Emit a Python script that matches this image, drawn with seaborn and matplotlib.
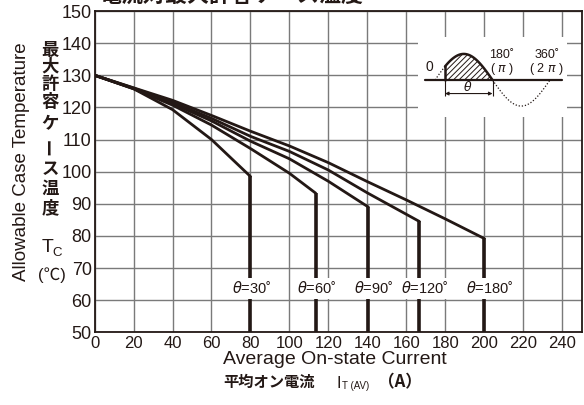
import numpy as np
import pandas as pd
import matplotlib
matplotlib.use('Agg')
import matplotlib.pyplot as plt
import seaborn as sns
from matplotlib.patches import Rectangle

# conduction angles (deg) and the derating curves
angles = [30, 60, 90, 120, 180]

cur_30 = [0, 20, 40, 60, 80]
tc_30 = [130, 125.8, 119.3, 110, 98.5]

cur_60 = [0, 20, 40, 60, 80, 100, 113.5]
tc_60 = [130, 125.8, 120.7, 114.5, 107.2, 99.5, 93.3]

cur_90 = [0, 20, 40, 60, 80, 100, 120, 140.5]
tc_90 = [130, 125.9, 121.2, 115.8, 109.5, 104, 97, 89]

cur_120 = [0, 20, 40, 60, 80, 100, 120, 140, 166.7]
tc_120 = [130, 126, 121.6, 116.6, 111, 106.3, 100.5, 93.4, 84.5]

cur_180 = [0, 20, 40, 60, 80, 100, 120, 140, 160, 180, 200]
tc_180 = [130, 126.1, 122.2, 117.5, 112.6, 108, 102.8, 96.9, 91.2, 85.3, 79.2]

currents = [cur_30, cur_60, cur_90, cur_120, cur_180]
temps = [tc_30, tc_60, tc_90, tc_120, tc_180]

x_ticks = [0, 20, 40, 60, 80, 100, 120, 140, 160, 180, 200, 220, 240]
y_ticks = [50, 60, 70, 80, 90, 100, 110, 120, 130, 140, 150]

# long table for seaborn
rows = []
for ang, cur, tc in zip(angles, currents, temps):
    for c, t in zip(cur, tc):
        rows.append({'angle': ang, 'current': c, 'tc': t})
df = pd.DataFrame(rows)

sns.set_theme(style='white')
plt.rcParams['font.family'] = ['Liberation Sans', 'Noto Sans CJK JP', 'DejaVu Sans']
plt.rcParams['hatch.linewidth'] = 0.7

ink = '#231815'
W, H = 584, 405

fig = plt.figure(figsize=(5.84, 4.05), dpi=100)
ax = fig.add_axes([94.6 / W, 72.7 / H, 487 / W, 321.3 / H])

sns.lineplot(data=df, x='current', y='tc', hue='angle', palette=[ink] * len(angles),
             estimator=None, sort=False, lw=2.0, legend=False, ax=ax)

# vertical drop at the max current of each curve
ax.vlines([c[-1] for c in currents], 50, [t[-1] for t in temps], color=ink, lw=2.6)

ax.set_xlim(0, 250)
ax.set_ylim(50, 150)
ax.set_xticks(x_ticks)
ax.set_yticks(y_ticks)
ax.grid(True, color='#7a7a7a', lw=1.0)
ax.set_xlabel('')
ax.set_ylabel('')
ax.tick_params(length=0)
ax.tick_params(axis='y', labelsize=13, pad=2, colors=ink)
ax.tick_params(axis='x', labelsize=12, pad=3, colors=ink)
for lab in ax.get_xticklabels():
    lab.set_family(['Liberation Sans Narrow', 'Liberation Sans'])
for sp in ax.spines.values():
    sp.set_color(ink)
    sp.set_linewidth(1.3)
    sp.set_visible(True)

# angle labels over the drop lines
label_shift = [0.5, 0.5, 3, 3, 3]
for ang, cur, dx in zip(angles, currents, label_shift):
    ax.text(cur[-1] + dx, 63.7, r'$\theta$=%d˚' % ang, ha='center', va='center',
            fontsize=10.5, color=ink, zorder=5,
            bbox=dict(facecolor='white', edgecolor='none', pad=2))

# waveform sketch top right
ins = fig.add_axes([418 / W, (H - 117) / H, 149 / W, 80 / H])
ins.axis('off')
ins.set_xlim(-0.296, 2.296)
ins.set_ylim(-1.42, 1.65)
ins.add_patch(Rectangle((0, 0), 1, 1, transform=ins.transAxes, facecolor='white',
                        edgecolor='none', zorder=0))
alpha = 0.174
t_on = np.linspace(alpha, 1, 60)
t_pre = np.linspace(0, alpha, 10)
t_neg = np.linspace(1, 2, 60)
ins.fill_between(t_on, 0, np.sin(np.pi * t_on), facecolor='white', edgecolor=ink,
                 hatch='//////', lw=0, zorder=1)
ins.plot(t_on, np.sin(np.pi * t_on), color=ink, lw=1.8, zorder=2)
ins.plot([alpha, alpha], [0, np.sin(np.pi * alpha)], color=ink, lw=1.8, zorder=2)
ins.plot(t_pre, np.sin(np.pi * t_pre), color=ink, lw=0.9, ls=(0, (1, 1.5)))
ins.plot(t_neg, np.sin(np.pi * t_neg), color=ink, lw=0.9, ls=(0, (1, 1.5)))
ins.plot([-0.17, 2.21], [0, 0], color=ink, lw=1.6, zorder=2)
ins.vlines([alpha, 1], -0.62, 0, color=ink, lw=0.8)
ins.annotate('', xy=(alpha, -0.52), xytext=(1, -0.52),
             arrowprops=dict(arrowstyle='<|-|>', lw=0.8, color=ink, shrinkA=0, shrinkB=0,
                             mutation_scale=5))
ins.text(0.57, -0.25, r'$\theta$', ha='center', va='center', fontsize=9, color=ink)
ins.text(-0.09, 0.5, '0', ha='center', va='center', fontsize=10, color=ink)
ins.text(1.16, 0.95, '180˚', ha='center', va='center', fontsize=9, color=ink)
ins.text(1.16, 0.42, r'( $\pi$ )', ha='center', va='center', fontsize=9, color=ink)
ins.text(1.95, 0.95, '360˚', ha='center', va='center', fontsize=9, color=ink)
ins.text(1.93, 0.42, r'( 2 $\pi$ )', ha='center', va='center', fontsize=9, color=ink)

# title, clipped at the top edge as in the scan
fig.text(100 / W, 1.008, '電流対最大許容ケース温度', ha='left', va='center',
         fontsize=15.8, weight='bold', color=ink)

# y axis captions
fig.text(21.7 / W, 1 - 161.5 / H, 'Allowable Case Temperature', rotation=90,
         ha='center', va='center', fontsize=13.5, color=ink)
jp_chars = '最大許容ケース温度'
jp_y = [50, 66.5, 84, 102, 124, 146, 169, 189, 208]
for ch, yy in zip(jp_chars, jp_y):
    fig.text(50 / W, 1 - yy / H, ch, ha='center', va='center', fontsize=12.5,
             weight='bold', color=ink, rotation=90 if ch == 'ー' else 0,
             family=['Noto Sans CJK JP'])
fig.text(47.5 / W, 1 - 248 / H, 'T', ha='center', va='center', fontsize=14, color=ink)
fig.text(57.5 / W, 1 - 252.5 / H, 'C', ha='center', va='center', fontsize=9.5, color=ink)
fig.text(51.5 / W, 1 - 275 / H, '(℃)', ha='center', va='center', fontsize=12, color=ink)

# x axis captions
fig.text(223 / W, 1 - 359.5 / H, 'Average On-state Current', ha='left', va='center',
         fontsize=14, color=ink)
fig.text(223 / W, 1 - 382 / H, '平均オン電流', ha='left', va='center', fontsize=11,
         weight='bold', color=ink, family=['Noto Sans CJK JP'])
fig.text(336 / W, 1 - 383 / H, 'I', ha='left', va='center', fontsize=11.5, color=ink)
fig.text(342 / W, 1 - 386 / H, 'T (AV)', ha='left', va='center', fontsize=7, color=ink)
fig.text(378 / W, 1 - 382 / H, '（A）', ha='left', va='center', fontsize=12,
         weight='bold', color=ink, family=['Noto Sans CJK JP'])

fig.savefig('out.png', dpi=100, facecolor='white')
